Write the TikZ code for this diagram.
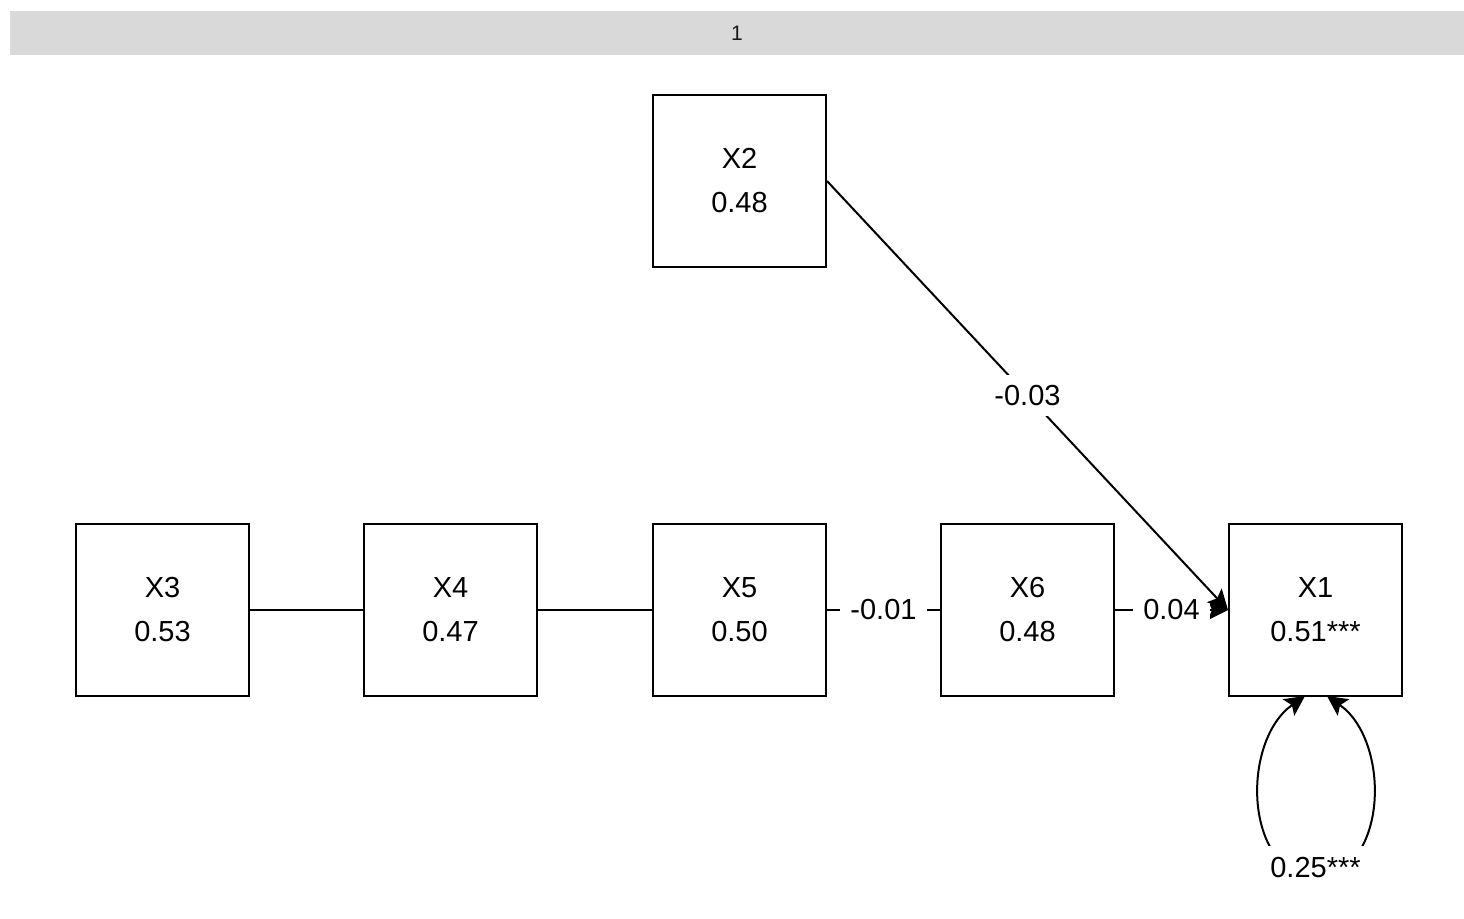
\documentclass[tikz,border=0pt]{standalone}
\usepackage{fontspec}
\setmainfont{Liberation Sans}
\usepackage{tikz}
\usetikzlibrary{arrows.meta,positioning}
\definecolor{stripcol}{RGB}{217,217,217}
\definecolor{stripfont}{RGB}{26,26,26}
\tikzset{
  arrow/.style={-{Stealth[length=10pt,width=10pt,inset=2pt]},line width=1pt},
  biarrow/.style={{Stealth[length=10pt,width=10pt,inset=2pt]}-{Stealth[length=10pt,width=10pt,inset=2pt]},line width=1pt},
  link/.style={line width=1pt},
  var/.style={draw,line width=1pt,minimum width=86.5pt,minimum height=86pt,
    inner sep=0pt,align=center,font=\fontsize{14.5}{22}\selectfont},
  coef/.style={fill=white,inner sep=5pt,font=\fontsize{14.5}{17}\selectfont}
}

\begin{document}
\begin{tikzpicture}[x=0.5pt,y=-0.5pt]
  \useasboundingbox (0,0) rectangle (1464,918);
  % facet strip
  \node[fill=stripcol,minimum width=727pt,minimum height=22pt,inner sep=0pt,
    font=\fontsize{10.5}{12}\selectfont\color{stripfont}] (strip) at (737,33) {1};
  % observed variables
  \node[var] (X2) at (739.5,181) {X2\\0.48};
  \node[var] (X3) at (162.5,610) {X3\\0.53};
  \node[var] (X4) at (450.5,610) {X4\\0.47};
  \node[var] (X5) at (739.5,610) {X5\\0.50};
  \node[var] (X6) at (1027.5,610) {X6\\0.48};
  \node[var] (X1) at (1315.5,610) {X1\\0.51***};
  % correlations and paths
  \draw[link] (X3.east)--(X4.west);
  \draw[link] (X4.east)--(X5.west);
  \draw[link] (X5.east)--node[coef] {-0.01}(X6.west);
  \draw[arrow] (X6.east)--node[coef] {0.04}(X1.west);
  \draw[arrow] (X2.east)--node[coef] {-0.03}(X1.west);
  % residual variance
  \coordinate (l1) at (1305,696);
  \coordinate (l2) at (1327,696);
  \draw[biarrow] (l1) .. controls (1242,740) and (1242,870) .. (1316,880)
    .. controls (1390,870) and (1390,740) .. (l2);
  \node[coef,inner sep=6pt] (res) at (1315.5,868) {0.25***};
\end{tikzpicture}
\end{document}
